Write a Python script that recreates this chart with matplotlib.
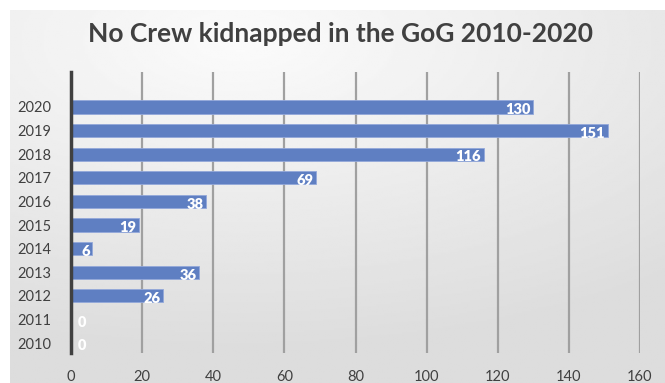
import numpy as np
import matplotlib.pyplot as plt

years = ['2010', '2011', '2012', '2013', '2014', '2015', '2016', '2017', '2018', '2019', '2020']
crew_kidnapped = [0, 0, 26, 36, 6, 19, 38, 69, 116, 151, 130]
x_ticks = [0, 20, 40, 60, 80, 100, 120, 140, 160]

plt.rcParams['font.family'] = ['Lato', 'DejaVu Sans']

fig = plt.figure(figsize=(6.65, 3.83), dpi=100, facecolor='white')

# soft gray panel behind the chart
bg = fig.add_axes([10 / 665, 0, 1 - 10 / 665, 1 - 10 / 383], zorder=0)
gx, gy = np.meshgrid(np.linspace(0, 1, 300), np.linspace(0, 1, 200))
d = np.sqrt(((gx - 0.35) / 1.1) ** 2 + ((gy - 0.08) / 0.9) ** 2)
shade = np.clip(0.985 - 0.13 * d, 0.865, 0.985)
bg.imshow(shade, cmap='gray', vmin=0, vmax=1, aspect='auto', extent=[0, 1, 1, 0])
bg.axis('off')

ax = fig.add_axes([71 / 665, 1 - 353 / 383, (640 - 71) / 665, (353 - 72) / 383], zorder=1)
ax.patch.set_alpha(0)

pos = np.arange(len(years))
edge_w = [0.6 if v > 0 else 0 for v in crew_kidnapped]
ax.barh(pos, crew_kidnapped, height=0.56, color='#5f7fc2', edgecolor='#93a8da', linewidth=edge_w, zorder=3)

for p, v in zip(pos, crew_kidnapped):
    ax.annotate(str(v), (max(v, 5), p), xytext=(-2, -2), textcoords='offset points',
                ha='right', va='center', color='white', fontsize=10.5, fontweight='heavy', zorder=4)

ax.set_xlim(0, 160)
ax.set_ylim(-0.42, 11.48)
ax.set_xticks(x_ticks)
ax.set_yticks(pos)
ax.set_yticklabels(years)
ax.grid(axis='x', color='#a0a0a0', linewidth=1.6, zorder=1)
for s in ['top', 'right', 'bottom']:
    ax.spines[s].set_visible(False)
ax.spines['left'].set_color('#404040')
ax.spines['left'].set_linewidth(2.5)
ax.spines['left'].set_zorder(5)
ax.tick_params(axis='both', length=0, labelsize=10.5, labelcolor='#404040')
ax.tick_params(axis='x', pad=12)
ax.tick_params(axis='y', pad=14)

fig.text(340 / 665, 1 - 34 / 383, 'No Crew kidnapped in the GoG 2010-2020', ha='center', va='center',
         fontsize=19, fontweight='bold', color='#404040')

fig.savefig('out.png', dpi=100)
